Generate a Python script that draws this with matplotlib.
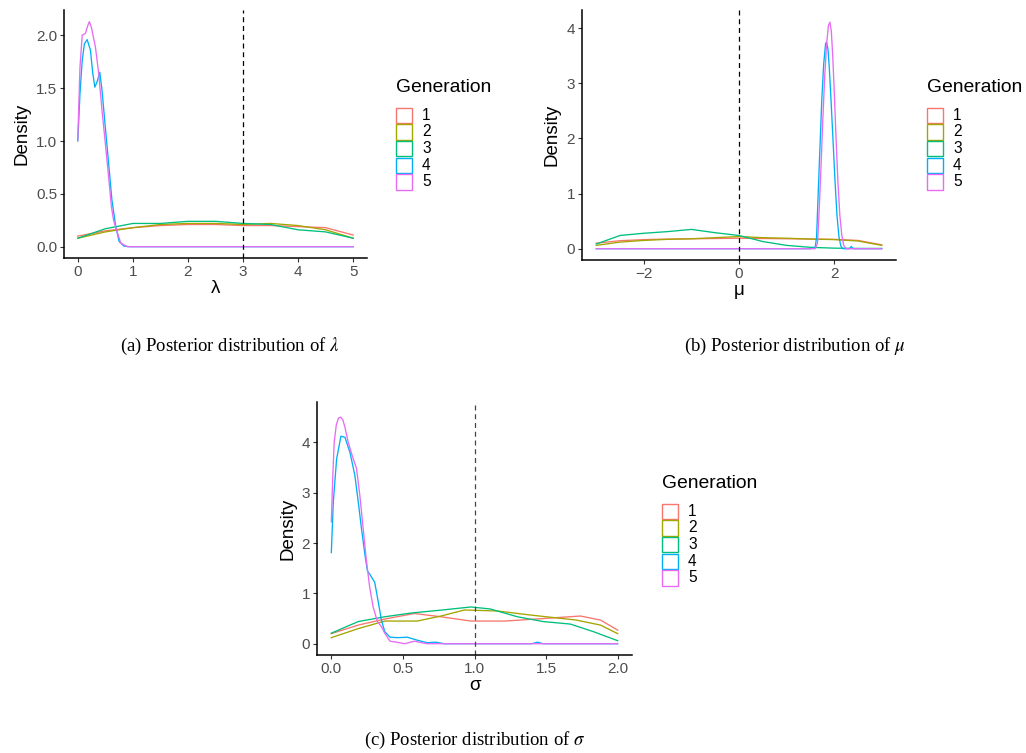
import matplotlib
matplotlib.use("Agg")
import matplotlib.pyplot as plt
from matplotlib.patches import Rectangle

# ggplot hue palette, generations 1..5
colors = ["#F8766D", "#A3A500", "#00BF7D", "#00B0F6", "#E76BF3"]
generations = ["1", "2", "3", "4", "5"]

# ---- (a) lambda ----
lam_grid = [0, 0.5, 1, 1.5, 2, 2.5, 3, 3.5, 4, 4.5, 5]
lam_g1 = [0.10, 0.15, 0.18, 0.20, 0.21, 0.21, 0.20, 0.20, 0.19, 0.18, 0.11]
lam_g2 = [0.08, 0.14, 0.18, 0.21, 0.22, 0.22, 0.21, 0.22, 0.20, 0.16, 0.08]
lam_g3 = [0.08, 0.17, 0.22, 0.22, 0.24, 0.24, 0.22, 0.21, 0.16, 0.14, 0.08]
lam_x4 = [0, 0.04, 0.08, 0.12, 0.17, 0.23, 0.27, 0.31, 0.35, 0.40, 0.44, 0.50,
          0.56, 0.62, 0.69, 0.75, 0.84, 0.95, 5]
lam_g4 = [1.0, 1.45, 1.76, 1.92, 1.96, 1.86, 1.65, 1.51, 1.56, 1.65, 1.48, 1.13,
          0.79, 0.44, 0.19, 0.05, 0.005, 0.0, 0.0]
lam_x5 = [0, 0.04, 0.08, 0.14, 0.18, 0.21, 0.25, 0.32, 0.38, 0.44, 0.50, 0.56,
          0.61, 0.65, 0.72, 0.78, 0.9, 5]
lam_g5 = [1.01, 1.7, 2.0, 2.02, 2.09, 2.13, 2.07, 1.89, 1.64, 1.29, 0.98, 0.66,
          0.38, 0.25, 0.13, 0.035, 0.0, 0.0]

# ---- (b) mu ----
mu_grid = [-3, -2.5, -2, -1.5, -1, -0.5, 0, 0.5, 1, 1.5, 2, 2.5, 3]
mu_g1 = [0.10, 0.145, 0.165, 0.175, 0.18, 0.185, 0.19, 0.185, 0.18, 0.175, 0.17, 0.15, 0.07]
mu_g2 = [0.06, 0.12, 0.15, 0.17, 0.18, 0.20, 0.22, 0.20, 0.19, 0.175, 0.165, 0.14, 0.06]
mu_g3 = [0.085, 0.24, 0.28, 0.31, 0.35, 0.29, 0.24, 0.13, 0.06, 0.025, 0.01, 0.005, 0.005]
mu_x4 = [-3, 1.5, 1.6, 1.63, 1.66, 1.70, 1.74, 1.78, 1.82, 1.84, 1.87, 1.90, 1.94,
         1.98, 2.02, 2.06, 2.10, 2.14, 2.18, 2.32, 2.36, 2.40, 3]
mu_g4 = [0.0, 0.0, 0.02, 0.2, 0.9, 1.8, 2.7, 3.35, 3.72, 3.75, 3.62, 3.25, 2.6,
         1.9, 1.2, 0.6, 0.22, 0.05, 0.0, 0.0, 0.04, 0.0, 0.0]
mu_x5 = [-3, 1.6, 1.65, 1.68, 1.72, 1.76, 1.80, 1.84, 1.88, 1.91, 1.94, 1.97, 2.00,
         2.04, 2.08, 2.12, 2.16, 2.20, 2.25, 3]
mu_g5 = [0.0, 0.0, 0.1, 0.6, 1.4, 2.3, 3.1, 3.7, 4.05, 4.11, 3.95, 3.5, 2.9,
         2.0, 1.2, 0.6, 0.25, 0.06, 0.0, 0.0]

# ---- (c) sigma ----
sig_x1 = [0, 0.188, 0.373, 0.58, 0.766, 0.975, 1.21, 1.48, 1.74, 1.88, 2.0]
sig_g1 = [0.2, 0.37, 0.49, 0.6, 0.535, 0.45, 0.45, 0.5, 0.55, 0.47, 0.27]
sig_x2 = [0, 0.188, 0.373, 0.6, 0.766, 0.93, 1.16, 1.39, 1.71, 1.88, 2.0]
sig_g2 = [0.12, 0.3, 0.45, 0.45, 0.55, 0.67, 0.65, 0.57, 0.47, 0.37, 0.2]
sig_x3 = [0, 0.188, 0.373, 0.558, 0.766, 0.975, 1.11, 1.30, 1.48, 1.67, 1.83, 2.0]
sig_g3 = [0.21, 0.44, 0.535, 0.61, 0.667, 0.73, 0.69, 0.535, 0.44, 0.39, 0.24, 0.06]
sig_x4 = [0, 0.014, 0.037, 0.067, 0.095, 0.13, 0.164, 0.188, 0.21, 0.234, 0.252,
          0.275, 0.303, 0.326, 0.35, 0.373, 0.41, 0.465, 0.53, 0.6, 0.67, 0.73,
          0.79, 1.4, 1.44, 1.48, 2.0]
sig_g4 = [1.81, 2.82, 3.67, 4.12, 4.1, 3.8, 3.35, 2.82, 2.3, 1.78, 1.45,
          1.35, 1.22, 0.86, 0.47, 0.24, 0.13, 0.12, 0.13, 0.07, 0.02, 0.03,
          0.0, 0.0, 0.03, 0.0, 0.0]
sig_x5 = [0, 0.01, 0.02, 0.035, 0.05, 0.065, 0.08, 0.095, 0.118, 0.153, 0.176,
          0.199, 0.222, 0.245, 0.268, 0.292, 0.322, 0.35, 0.373, 0.41, 0.456,
          0.513, 0.58, 0.63, 0.67, 2.0]
sig_g5 = [2.42, 3.3, 4.0, 4.35, 4.48, 4.5, 4.45, 4.3, 4.0, 3.67, 3.48,
          2.95, 2.3, 1.65, 1.12, 0.73, 0.44, 0.34, 0.21, 0.05, 0.03,
          0.0, 0.05, 0.02, 0.0, 0.0]

W, H = 1026, 753
plt.rcParams["font.family"] = ["Liberation Sans", "DejaVu Sans"]
plt.rcParams["mathtext.fontset"] = "stix"

fig = plt.figure(figsize=(W / 100, H / 100), dpi=100)


def px_axes(left, top, right, bottom):
    return fig.add_axes([left / W, 1 - bottom / H, (right - left) / W, (bottom - top) / H])


def style(ax, xlabel):
    for s in ["top", "right"]:
        ax.spines[s].set_visible(False)
    for s in ["left", "bottom"]:
        ax.spines[s].set_linewidth(1.1)
        ax.spines[s].set_color("black")
    ax.tick_params(length=3, width=0.8, color="#333333", labelcolor="#4D4D4D",
                   labelsize=11, pad=2)
    ax.set_ylabel("Density", fontsize=13.5, labelpad=4)
    ax.set_xlabel(xlabel, fontsize=13.5, labelpad=1)


def legend(x0, ytitle):
    fig.text(x0 / W, 1 - ytitle / H, "Generation", fontsize=13.9, va="center", ha="left")
    for i, (c, g) in enumerate(zip(colors, generations)):
        yc = ytitle + 27 + i * 16.7
        fig.patches.append(Rectangle((x0 / W, 1 - (yc + 8) / H), 16 / W, 15.5 / H,
                                     transform=fig.transFigure, facecolor="white",
                                     edgecolor=c, linewidth=1.0))
        fig.text((x0 + 26) / W, 1 - yc / H, g, fontsize=11.2, va="center", ha="left")


def draw(ax, series):
    for (x, y), c in zip(series, colors):
        ax.plot(x, y, color=c, lw=0.95)


# (a)
ax1 = px_axes(64, 10, 367, 258)
draw(ax1, [(lam_grid, lam_g1), (lam_grid, lam_g2), (lam_grid, lam_g3),
           (lam_x4, lam_g4), (lam_x5, lam_g5)])
ax1.axvline(3, color="black", lw=0.9, ls=(0, (4, 3)))
ax1.set_xlim(-0.25, 5.25)
ax1.set_ylim(-0.107, 2.24)
ax1.set_xticks([0, 1, 2, 3, 4, 5])
ax1.set_yticks([0, 0.5, 1, 1.5, 2])
ax1.set_yticklabels(["0.0", "0.5", "1.0", "1.5", "2.0"])
style(ax1, "λ")
legend(396, 88)

# (b)
ax2 = px_axes(582, 10, 896, 260)
draw(ax2, [(mu_grid, mu_g1), (mu_grid, mu_g2), (mu_grid, mu_g3),
           (mu_x4, mu_g4), (mu_x5, mu_g5)])
ax2.axvline(0, color="black", lw=0.9, ls=(0, (4, 3)))
ax2.set_xlim(-3.3, 3.3)
ax2.set_ylim(-0.205, 4.33)
ax2.set_xticks([-2, 0, 2])
ax2.set_yticks([0, 1, 2, 3, 4])
style(ax2, "μ")
legend(927, 88)

# (c)
ax3 = px_axes(317, 402, 632, 655)
draw(ax3, [(sig_x1, sig_g1), (sig_x2, sig_g2), (sig_x3, sig_g3),
           (sig_x4, sig_g4), (sig_x5, sig_g5)])
ax3.axvline(1, color="#444444", lw=0.9, ls=(0, (4, 3)))
ax3.set_xlim(-0.1, 2.1)
ax3.set_ylim(-0.224, 4.8)
ax3.set_xticks([0, 0.5, 1, 1.5, 2])
ax3.set_xticklabels(["0.0", "0.5", "1.0", "1.5", "2.0"])
ax3.set_yticks([0, 1, 2, 3, 4])
style(ax3, "σ")
legend(662, 484)

# captions
cap = dict(fontsize=13.5, family="Liberation Serif", ha="center", va="center")
fig.text(230 / W, 1 - 346 / H, r"(a) Posterior distribution of $\lambda$", **cap)
fig.text(795 / W, 1 - 346 / H, r"(b) Posterior distribution of $\mu$", **cap)
fig.text(475 / W, 1 - 740 / H, r"(c) Posterior distribution of $\sigma$", **cap)

fig.savefig("out.png", dpi=100)
